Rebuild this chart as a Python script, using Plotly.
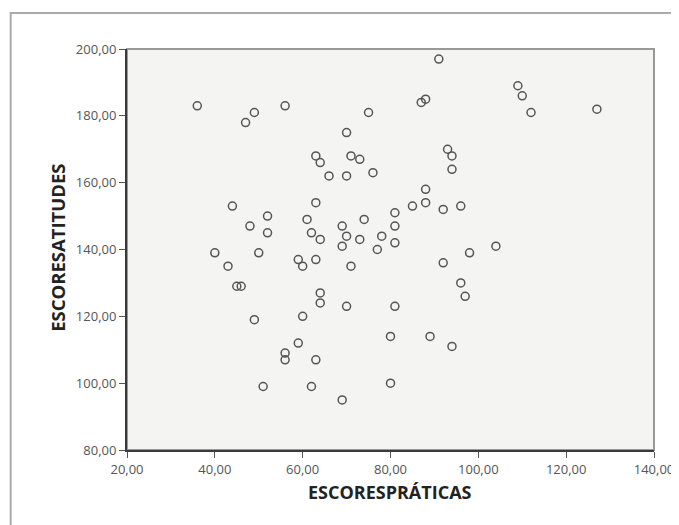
import plotly.graph_objects as go

praticas = [36, 49, 47, 56, 75, 91, 87, 88, 109, 110, 112, 127,
            70, 63, 64, 66, 70, 71, 73, 76, 93, 94, 94, 88, 88, 85, 92, 96,
            81, 81, 81, 78, 77, 74, 73, 69, 70, 69, 63, 61, 62, 64, 63, 59, 60, 71,
            104, 98, 92, 96, 97, 81, 70, 64, 64, 60, 49, 80, 89, 94, 59, 56, 56, 63,
            51, 62, 80, 69, 44, 52, 52, 48, 40, 50, 43, 45, 46]
atitudes = [183, 181, 178, 183, 181, 197, 184, 185, 189, 186, 181, 182,
            175, 168, 166, 162, 162, 168, 167, 163, 170, 168, 164, 158, 154, 153, 152, 153,
            151, 147, 142, 144, 140, 149, 143, 147, 144, 141, 154, 149, 145, 143, 137, 137, 135, 135,
            141, 139, 136, 130, 126, 123, 123, 127, 124, 120, 119, 114, 114, 111, 112, 109, 107, 107,
            99, 99, 100, 95, 153, 150, 145, 147, 139, 139, 135, 129, 129]

x_ticks = [20, 40, 60, 80, 100, 120, 140]
x_labels = ["20,00", "40,00", "60,00", "80,00", "100,00", "120,00", "140,00"]
y_ticks = [80, 100, 120, 140, 160, 180, 200]
y_labels = ["80,00", "100,00", "120,00", "140,00", "160,00", "180,00", "200,00"]
x_title = "ESCORESPRÁTICAS"
y_title = "ESCORESATITUDES"

fig = go.Figure(go.Scatter(
    x=praticas, y=atitudes, mode="markers",
    marker=dict(symbol="circle-open", size=8, color="#555555", line=dict(width=1.5, color="#555555")),
    hoverinfo="skip"))

axis_common = dict(showgrid=False, zeroline=False, showline=True, linecolor="#3a3a3a", linewidth=2,
                   ticks="outside", ticklen=6, tickcolor="#555555", tickwidth=1, automargin=False,
                   tickfont=dict(family="Open Sans", size=13, color="#555555"))

fig.update_layout(
    template="none",
    width=679, height=525,
    margin=dict(l=119, r=33, t=41, b=83, autoexpand=False),
    paper_bgcolor="white", plot_bgcolor="#f4f4f2",
    showlegend=False,
    font=dict(family="Open Sans"),
    xaxis=dict(range=[20, 140], tickvals=x_ticks, ticktext=x_labels, **axis_common),
    yaxis=dict(range=[80, 200], tickvals=y_ticks, ticktext=y_labels, **axis_common),
    annotations=[
        dict(text="<b>" + x_title + "</b>", xref="paper", yref="paper", x=0.499, y=-0.07,
             xanchor="center", yanchor="top", showarrow=False,
             font=dict(family="Open Sans", size=18, color="#222222")),
        dict(text="<b>" + y_title + "</b>", xref="paper", yref="paper", x=-0.131, y=0.504,
             xanchor="center", yanchor="middle", showarrow=False, textangle=-90,
             font=dict(family="Open Sans", size=18.5, color="#222222")),
    ],
    shapes=[
        dict(type="rect", xref="paper", yref="paper", x0=0, x1=1, y0=0, y1=1,
             line=dict(color="#999999", width=2), layer="below"),
        dict(type="rect", xref="paper", yref="paper", x0=-0.2207, x1=1.5, y0=-0.4, y1=1.09,
             line=dict(color="#aaaaaa", width=2), layer="below"),
    ],
)

fig.write_html("out.html")
